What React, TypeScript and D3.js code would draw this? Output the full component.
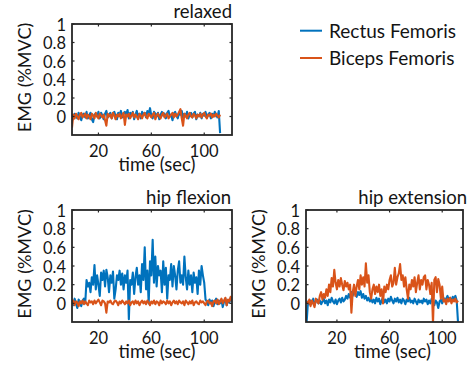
import React from "react";
import * as d3 from "d3";

// ---------- data ----------
const seriesNames = ["Rectus Femoris", "Biceps Femoris"];
const seriesColors = ["#0072BD", "#D95319"];
const panelTitles = ["relaxed", "hip flexion", "hip extension"];
const xTicks = [20, 60, 100];
const yTicks = [0, 0.2, 0.4, 0.6, 0.8, 1];
const xLabel = "time (sec)";
const yLabel = "EMG (%MVC)";

// sample spacing (sec) and first sample time for each panel
const sampleStep = 1;
const relaxedStart = 0;
const flexionStart = 0;
const extensionStart = -3;

const relaxedRF = [
  0.02, -0.03, 0.03, 0.01, -0.02, 0.04, 0.0, -0.04, 0.02, 0.03, -0.01, 0.05, -0.02, 0.01, 0.04, -0.03, -0.06, 0.02, 0.03, 0.0,
  0.05, -0.02, 0.04, 0.01, -0.03, 0.03, 0.06, -0.01, 0.02, 0.04, -0.02, 0.03, 0.05, 0.0, -0.03, 0.04, 0.02, 0.06, -0.01, 0.03,
  0.05, 0.02, 0.07, -0.02, 0.04, 0.01, 0.05, -0.03, 0.02, 0.06, 0.0, 0.03, -0.02, 0.05, 0.02, 0.04, -0.01, 0.06, 0.03, 0.09,
  0.01, -0.02, 0.05, 0.03, 0.0, 0.04, -0.03, 0.02, 0.05, 0.01, 0.03, -0.02, 0.04, 0.06, 0.0, 0.02, -0.04, 0.03, 0.05, 0.01,
  -0.02, 0.04, 0.02, 0.06, -0.01, 0.03, 0.0, 0.05, -0.02, 0.02, 0.04, -0.01, 0.03, 0.05, -0.03, 0.02, 0.0, 0.04, -0.02, 0.03,
  0.01, 0.05, -0.01, 0.02, 0.04, -0.02, 0.03, 0.0, 0.05, 0.02, -0.01, 0.06, -0.18,
];
const relaxedBF = [
  -0.12, 0.02, -0.02, 0.03, 0.0, -0.03, 0.02, 0.04, -0.01, 0.01, 0.03, -0.02, 0.02, 0.0, -0.03, 0.03, 0.01, -0.02, 0.04, 0.0,
  -0.02, 0.03, 0.01, -0.01, 0.02, -0.04, -0.1, 0.03, 0.0, 0.02, -0.02, 0.04, 0.01, -0.03, 0.02, 0.0, 0.03, -0.02, 0.01, 0.04,
  -0.09, 0.02, 0.0, 0.03, -0.02, 0.01, 0.04, -0.01, 0.02, 0.0, -0.03, 0.03, 0.01, -0.02, 0.02, 0.04, 0.0, -0.02, 0.03, 0.01,
  -0.01, 0.02, 0.04, -0.03, 0.01, 0.03, 0.0, -0.02, 0.02, 0.04, -0.01, 0.01, 0.03, -0.02, 0.0, 0.02, 0.04, -0.01, 0.03, 0.0,
  0.02, 0.05, 0.08, -0.02, -0.1, 0.03, 0.01, -0.02, 0.02, 0.04, 0.0, -0.01, 0.03, 0.01, -0.02, 0.02, 0.0, 0.03, -0.01, 0.02,
  0.04, 0.0, -0.02, 0.02, 0.01, 0.03, -0.01, 0.02, 0.0, 0.03, 0.01, -0.01, 0.02,
];

const flexionRF = [
  0.03, -0.02, 0.05, 0.0, -0.05, 0.04, 0.02, -0.03, 0.03, 0.05,
  0.0, 0.25, 0.18, 0.22, 0.12, 0.28, 0.2, 0.41, 0.15, 0.3,
  0.2, 0.08, 0.33, 0.25, 0.35, 0.18, 0.36, 0.28, 0.12, 0.3,
  0.22, 0.34, 0.05, 0.15, 0.3, 0.25, 0.35, 0.2, 0.32, 0.15,
  0.3, 0.22, 0.35, -0.17, 0.25, 0.2, 0.33, 0.1, 0.28, 0.38,
  0.2, 0.3, 0.12, 0.42, 0.25, 0.6, 0.15, 0.35, 0.0, 0.45,
  0.3, 0.68, 0.22, 0.5, 0.18, 0.4, 0.3, 0.35, 0.12, 0.45,
  0.2, 0.38, 0.05, 0.3, 0.25, 0.42, 0.18, 0.4, 0.3, 0.15,
  0.35, 0.45, 0.22, 0.3, 0.2, 0.5, 0.28, 0.15, 0.35, 0.2,
  0.3, 0.12, 0.33, 0.22, 0.28, 0.1, 0.35, 0.2, 0.4, 0.3,
  0.22, 0.04, 0.02, -0.02, 0.04, 0.0, 0.03, -0.03, 0.02, 0.05,
  -0.01, 0.03, 0.0, 0.04, -0.04, 0.02, 0.05, -0.02, 0.03, 0.01, 0.06, 0.02,
];
const flexionBF = [
  0.0, 0.03, -0.02, 0.02, 0.01, -0.03, 0.02, 0.0, 0.03, -0.01,
  0.02, 0.0, -0.02, 0.03, 0.01, 0.02, -0.01, 0.03, 0.0, 0.02,
  0.04, 0.01, -0.02, 0.03, 0.02, 0.0, -0.1, 0.02, 0.01, 0.03,
  0.0, -0.01, 0.02, 0.03, 0.01, -0.02, 0.02, 0.0, 0.03, 0.01,
  -0.01, 0.02, 0.0, 0.03, -0.02, 0.01, 0.02, -0.01, 0.03, 0.0,
  0.02, -0.02, 0.01, 0.03, 0.0, 0.02, -0.01, 0.03, 0.01, -0.02,
  0.02, 0.0, 0.03, -0.01, 0.02, 0.01, -0.02, 0.03, 0.0, 0.02,
  0.01, -0.01, 0.03, 0.0, 0.02, -0.02, 0.01, 0.03, 0.0, 0.02,
  -0.01, 0.03, 0.01, 0.0, 0.02, -0.02, 0.03, 0.01, -0.01, 0.02,
  0.0, 0.03, -0.02, 0.01, 0.02, 0.0, -0.01, 0.03, 0.01, 0.02,
  0.0, -0.02, 0.02, 0.03, 0.0, 0.01, -0.03, 0.02, 0.03, 0.0,
  0.04, -0.01, 0.02, 0.05, 0.0, 0.03, 0.06, -0.02, 0.04, 0.02, 0.07, 0.03,
];

const extensionRF = [
  -0.2, 0.02, -0.01, 0.03, 0.0, 0.05, -0.02, 0.02, 0.04, 0.0,
  0.03, -0.01, 0.02, 0.05, 0.0, 0.03, -0.02, 0.04, 0.01, 0.06,
  0.02, 0.0, 0.04, -0.01, 0.03, 0.05, 0.01, 0.06, 0.02, 0.04,
  0.08, 0.05, 0.1, 0.06, 0.12, 0.08, 0.14, 0.1, 0.07, 0.12,
  0.09, 0.13, 0.06, 0.1, 0.05, 0.08, 0.03, 0.06, 0.02, 0.05,
  0.01, 0.04, 0.0, 0.06, 0.02, 0.05, -0.01, 0.03, 0.06, 0.01,
  0.04, 0.0, 0.05, 0.02, 0.07, 0.03, 0.0, 0.05, 0.02, 0.06,
  0.01, 0.04, 0.0, 0.05, 0.03, -0.01, 0.04, 0.02, 0.06, 0.01,
  0.03, 0.0, 0.05, 0.02, -0.01, 0.04, 0.01, 0.03, 0.0, 0.05,
  0.02, 0.04, -0.01, 0.03, 0.0, 0.05, 0.02, -0.02, 0.03, 0.01,
  -0.05, 0.02, 0.04, 0.0, 0.06, 0.02, 0.05, 0.08, 0.03, 0.06,
  0.02, 0.07, 0.04, 0.08, 0.03, -0.2,
];
const extensionBF = [
  0.02, 0.0, 0.04, -0.03, 0.03, 0.0, -0.04, 0.05, 0.02, 0.0,
  0.08, 0.12, 0.04, 0.1, 0.06, 0.15, 0.08, 0.2, 0.12, 0.27,
  0.18, 0.36, 0.22, 0.15, 0.25, 0.18, 0.27, 0.2, 0.14, 0.24,
  0.18, 0.22, 0.15, 0.2, -0.1, 0.12, 0.2, 0.08, 0.18, 0.25,
  0.15, 0.3, 0.2, 0.28, 0.18, 0.43, 0.22, 0.3, 0.12, 0.05,
  0.15, 0.2, 0.1, 0.18, 0.12, 0.2, 0.08, 0.15, 0.0, 0.18,
  0.12, 0.2, 0.15, 0.25, 0.3, 0.18, 0.22, 0.38, 0.2, 0.28,
  0.32, 0.42, 0.25, 0.3, 0.18, 0.28, 0.15, 0.05, 0.2, 0.15,
  0.25, 0.18, 0.28, 0.12, 0.22, 0.3, 0.15, 0.25, 0.2, 0.28,
  0.3, 0.15, 0.25, 0.2, 0.1, 0.22, -0.22, 0.25, 0.28, 0.12,
  0.26, 0.2, 0.05, 0.18, 0.02, 0.04, -0.01, 0.05, 0.02, 0.06,
  0.0, 0.04, 0.02, 0.05, 0.01, 0.03,
];

// ---------- layout ----------
const W = 474;
const H = 368;
const FONT = "Lato, 'Open Sans', sans-serif";
const AXIS_COLOR = "#262626";
const TEXT_COLOR = "#141414";

type Panel = {
  title: string;
  left: number;
  top: number;
  width: number;
  height: number;
  xDomain: [number, number];
  start: number;
  series: number[][];
  xLabelDx: number;
  titleDx: number;
};

const panels: Panel[] = [
  { title: panelTitles[0], left: 72, top: 24, width: 160, height: 111, xDomain: [0, 121], start: relaxedStart, series: [relaxedRF, relaxedBF], xLabelDx: 5, titleDx: 0 },
  { title: panelTitles[1], left: 72, top: 210, width: 160, height: 112, xDomain: [0, 121], start: flexionStart, series: [flexionRF, flexionBF], xLabelDx: 5, titleDx: -1 },
  { title: panelTitles[2], left: 306, top: 210, width: 157, height: 112, xDomain: [-3.5, 115.8], start: extensionStart, series: [extensionRF, extensionBF], xLabelDx: 8, titleDx: 4 },
];

const fmt = d3.format("~g");

function PanelView({ p }: { p: Panel }) {
  const x = d3.scaleLinear().domain(p.xDomain).range([0, p.width]);
  const y = d3.scaleLinear().domain([-0.2, 1]).range([p.height, 0]);
  const line = d3
    .line<number>()
    .x((_, i) => x(p.start + i * sampleStep))
    .y((d) => y(d));
  const tl = 2.5;
  const clipId = `clip-${p.left}-${p.top}`;
  return (
    <g transform={`translate(${p.left},${p.top})`}>
      <defs>
        <clipPath id={clipId}>
          <rect x={0} y={0} width={p.width} height={p.height} />
        </clipPath>
      </defs>
      <rect x={0} y={0} width={p.width} height={p.height} fill="#fff" />
      <g clipPath={`url(#${clipId})`}>
        {p.series.map((s, k) => (
          <path key={k} d={line(s) || ""} fill="none" stroke={seriesColors[k]} strokeWidth={2.1} strokeLinejoin="round" />
        ))}
      </g>
      {yTicks.map((t) => (
        <g key={"y" + t}>
          <line x1={0} x2={tl} y1={y(t)} y2={y(t)} stroke={AXIS_COLOR} strokeWidth={1.2} />
          <line x1={p.width - tl} x2={p.width} y1={y(t)} y2={y(t)} stroke={AXIS_COLOR} strokeWidth={1.2} />
          <text x={-6} y={y(t)} dy="0.4em" textAnchor="end" fontSize={16.5} fontFamily={FONT} fill={TEXT_COLOR}>
            {fmt(t)}
          </text>
        </g>
      ))}
      {xTicks.map((t) => (
        <g key={"x" + t}>
          <line x1={x(t)} x2={x(t)} y1={p.height} y2={p.height - tl} stroke={AXIS_COLOR} strokeWidth={1.2} />
          <line x1={x(t)} x2={x(t)} y1={0} y2={tl} stroke={AXIS_COLOR} strokeWidth={1.2} />
          <text x={x(t)} y={p.height + 22} textAnchor="middle" fontSize={16.5} fontFamily={FONT} fill={TEXT_COLOR}>
            {fmt(t)}
          </text>
        </g>
      ))}
      <rect x={0} y={0} width={p.width} height={p.height} fill="none" stroke={AXIS_COLOR} strokeWidth={1.8} />
      <text x={p.width / 2 + p.xLabelDx} y={p.height + 36} textAnchor="middle" fontSize={18.5} fontFamily={FONT} fill={TEXT_COLOR}>
        {xLabel}
      </text>
      <text
        transform={`translate(${-41},${p.height / 2 - 2}) rotate(-90)`}
        textAnchor="middle"
        fontSize={18}
        fontFamily={FONT}
        fill={TEXT_COLOR}
      >
        {yLabel}
      </text>
      <text x={p.width + p.titleDx} y={-6.5} textAnchor="end" fontSize={18.5} fontFamily={FONT} fill={TEXT_COLOR}>
        {p.title}
      </text>
    </g>
  );
}

export default function App() {
  const legendY = [30.7, 58];
  return (
    <svg width={W} height={H} style={{ position: "absolute", left: 0, top: 0, background: "#fff" }}>
      <rect width={W} height={H} fill="#fff" />
      {panels.map((p, i) => (
        <PanelView key={i} p={p} />
      ))}
      {seriesNames.map((n, k) => (
        <g key={n}>
          <line x1={300} x2={322} y1={legendY[k]} y2={legendY[k]} stroke={seriesColors[k]} strokeWidth={2} />
          <text x={329} y={legendY[k]} dy="0.36em" fontSize={19} fontFamily={FONT} fill={TEXT_COLOR}>
            {n}
          </text>
        </g>
      ))}
    </svg>
  );
}
